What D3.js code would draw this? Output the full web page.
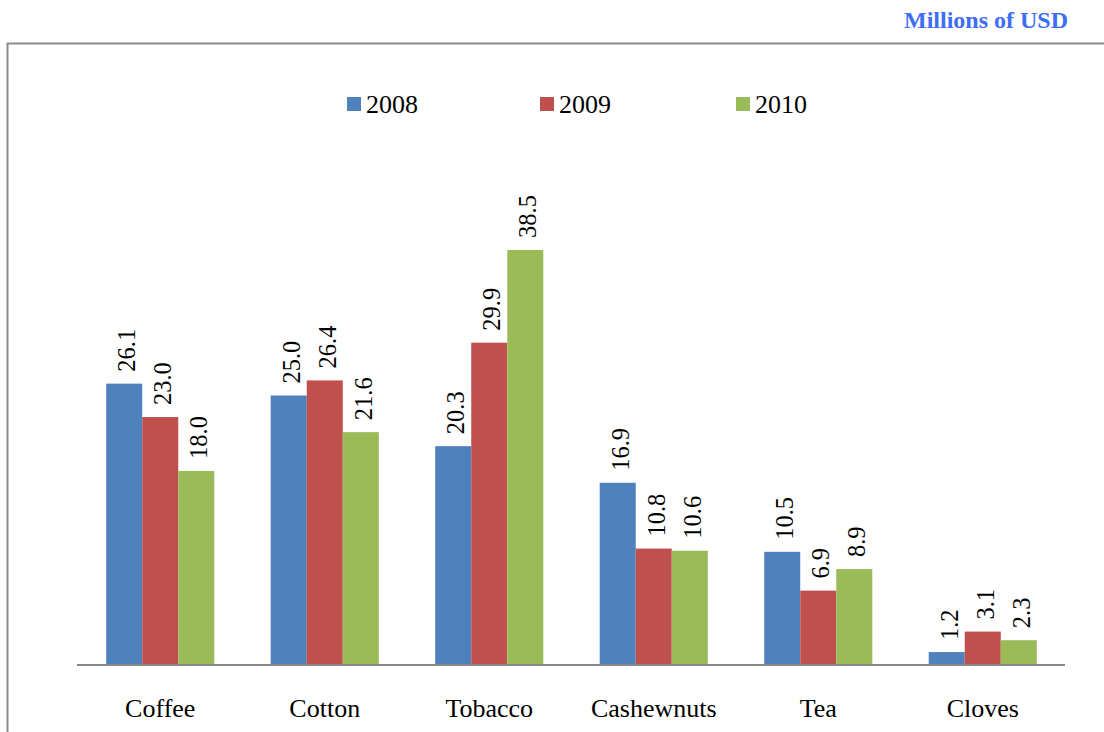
<!DOCTYPE html>
<html><head><meta charset="utf-8">
<script src="https://cdn.jsdelivr.net/npm/d3@7/dist/d3.min.js"></script>
<style>body{margin:0;background:#fff;}svg{display:block;}</style>
</head><body>
<svg id="c" width="1104" height="732"></svg>
<script>
const categories = ["Coffee","Cotton","Tobacco","Cashewnuts","Tea","Cloves"];
const seriesNames = ["2008","2009","2010"];
const values2008 = [26.1,25.0,20.3,16.9,10.5,1.2];
const values2009 = [23.0,26.4,29.9,10.8,6.9,3.1];
const values2010 = [18.0,21.6,38.5,10.6,8.9,2.3];
const colors = ["#4F81BD","#C0504D","#9BBB59"];
const series = [values2008, values2009, values2010];

const svg = d3.select("#c");
const font = "'Liberation Serif','Times New Roman','DejaVu Serif',serif";

// frame
svg.append("path").attr("d","M7.5,732 L7.5,43.5 L1104,43.5").attr("fill","none").attr("stroke","#8c8c8c").attr("stroke-width",2);

svg.append("text").attr("x",1068).attr("y",28).attr("text-anchor","end")
  .style("font-family",font).attr("font-weight","bold").attr("font-size",24)
  .attr("fill","#3d6ef5").text("Millions of USD");

const x0 = d3.scaleBand().domain(categories).range([78,1065]).paddingInner(0.343).paddingOuter(0.1715);
const x1 = d3.scaleBand().domain(seriesNames).range([0,x0.bandwidth()]);
const y = d3.scaleLinear().domain([0,45]).range([665,665-45*10.78]);

const g = svg.append("g");
categories.forEach((c,i)=>{
  series.forEach((s,j)=>{
    const bx = x0(c)+x1(seriesNames[j]);
    g.append("rect").attr("x",bx).attr("y",y(s[i])).attr("width",x1.bandwidth()).attr("height",y(0)-y(s[i]))
      .attr("fill",colors[j]);
    const cx = bx + x1.bandwidth()/2;
    g.append("text").attr("transform",`translate(${cx+11},${y(s[i])-12}) rotate(-90)`)
      .style("font-family",font).attr("font-size",24.5).attr("fill","#000").text(s[i].toFixed(1));
  });
});

// axis
const ax = svg.append("g").attr("transform","translate(0,665)").call(d3.axisBottom(x0).tickSize(0).tickPadding(34));
ax.select(".domain").attr("stroke","#868686").attr("stroke-width",2).attr("d","M77,0H1065");
ax.selectAll("text").style("font-family",font).attr("font-size",26).attr("fill","#000");

// legend
const legX = [347,540,736];
seriesNames.forEach((n,j)=>{
  svg.append("rect").attr("x",legX[j]).attr("y",97).attr("width",14).attr("height",14).attr("fill",colors[j]);
  svg.append("text").attr("x",legX[j]+19).attr("y",113).style("font-family",font).attr("font-size",26).attr("fill","#000").text(n);
});
</script>
</body></html>
